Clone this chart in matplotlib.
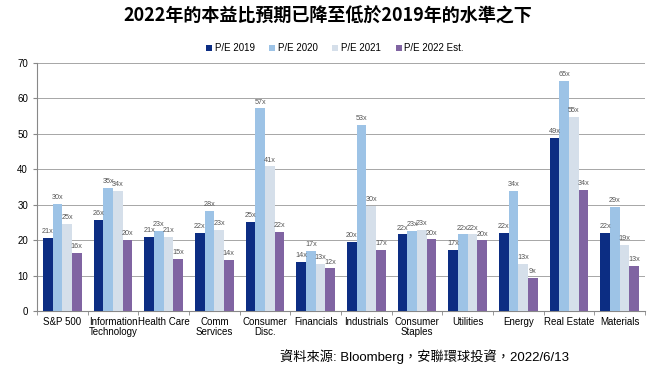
import numpy as np
import matplotlib.pyplot as plt

plt.rcParams['font.family'] = ['Liberation Sans', 'Noto Sans CJK TC', 'DejaVu Sans']

categories = ['S&P 500', 'Information\nTechnology', 'Health Care', 'Comm\nServices',
              'Consumer\nDisc.', 'Financials', 'Industrials', 'Consumer\nStaples',
              'Utilities', 'Energy', 'Real Estate', 'Materials']
pe2019 = [20.6, 25.7, 21.0, 22.0, 25.2, 13.8, 19.6, 21.6, 17.3, 22.0, 48.9, 22.0]
pe2020 = [30.3, 34.7, 22.6, 28.3, 57.2, 17.0, 52.6, 22.6, 21.6, 33.8, 64.9, 29.3]
pe2021 = [24.6, 33.8, 20.8, 22.9, 40.8, 13.3, 29.7, 23.0, 21.6, 13.3, 54.8, 18.7]
pe2022 = [16.4, 20.1, 14.7, 14.4, 22.4, 12.0, 17.3, 20.2, 19.9, 9.3, 34.2, 12.8]
series = [('P/E 2019', pe2019, '#0c2d83'),
          ('P/E 2020', pe2020, '#9dc3e6'),
          ('P/E 2021', pe2021, '#d5dfea'),
          ('P/E 2022 Est.', pe2022, '#8064a2')]

fig = plt.figure(figsize=(6.56, 3.85), dpi=100)
ax = fig.add_axes([37/656, 1 - 311/385, 608/656, 248/385])

x = np.arange(len(categories))
w = 0.19
for i, (name, vals, col) in enumerate(series):
    pos = x + (i - 1.5) * w
    ax.bar(pos, vals, w, color=col, label=name, zorder=3)
    for px, v in zip(pos, vals):
        ax.text(px, v + 0.8, f'{round(v)}x', ha='center', va='bottom',
                fontsize=5.2, color='#555555', zorder=4)

ax.set_xlim(-0.5, len(categories) - 0.5)
ax.set_ylim(0, 70)
ax.set_yticks(range(0, 71, 10))
ax.yaxis.grid(True, color='#a6a6a6', linewidth=0.7, zorder=0)
ax.set_xticks(x)
ax.set_xticklabels(categories, fontsize=7, linespacing=1.1)
ax.set_xticks(np.arange(-0.5, len(categories), 1), minor=True)
ax.tick_params(axis='x', which='major', length=0, pad=4)
ax.tick_params(axis='x', which='minor', length=3, color='#888888')
ax.tick_params(axis='y', labelsize=7, length=3, color='#888888')
for s in ['top', 'right']:
    ax.spines[s].set_visible(False)
for s in ['left', 'bottom']:
    ax.spines[s].set_color('#888888')

ax.legend(loc='lower center', bbox_to_anchor=(0.49, 1.0), ncol=4, frameon=False,
          fontsize=7, handlelength=0.6, handleheight=0.6, columnspacing=1.5,
          handletextpad=0.3, borderaxespad=0.6)

fig.text(0.5, 1 - 16/385, '2022年的本益比預期已降至低於2019年的水準之下', ha='center',
         va='center', fontsize=13, fontweight='bold', family=['Noto Sans CJK TC'])
fig.text(425/656, 1 - 357/385, '資料來源: Bloomberg，安聯環球投資，2022/6/13', ha='center',
         va='center', fontsize=9.5, family=['Liberation Sans', 'Noto Sans CJK TC'])

fig.savefig('out.png', dpi=100)
